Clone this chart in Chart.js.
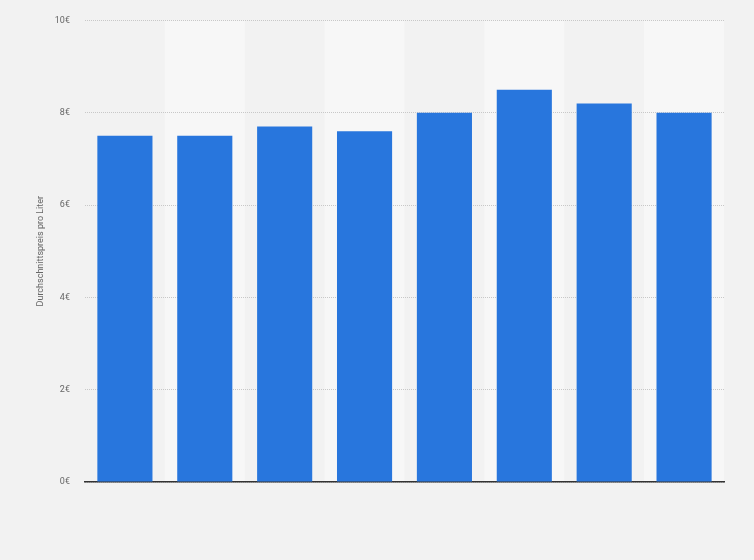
<!DOCTYPE html>
<html>
<head>
<meta charset="utf-8">
<script src="https://cdn.jsdelivr.net/npm/chart.js@4/dist/chart.umd.min.js"></script>
<style>
  html, body { margin: 0; padding: 0; background: #f2f2f2; }
  #wrap { width: 754px; height: 560px; }
</style>
</head>
<body>
<div id="wrap"><canvas id="chart"></canvas></div>
<script>
// Werte
const categories = ["1", "2", "3", "4", "5", "6", "7", "8"];
const preise = [7.5, 7.5, 7.7, 7.6, 8.0, 8.5, 8.2, 8.0];
const yTicks = [0, 2, 4, 6, 8, 10];

// abwechselnde Spaltenhintergründe
const bandPlugin = {
  id: "bands",
  beforeDraw(chart) {
    const { ctx, chartArea, scales } = chart;
    const x = scales.x;
    const step = x.getPixelForValue(1) - x.getPixelForValue(0);
    ctx.save();
    categories.forEach((c, i) => {
      if (i % 2 === 1) {
        ctx.fillStyle = "#f7f7f7";
        ctx.fillRect(x.getPixelForValue(i) - step / 2, chartArea.top, step, chartArea.bottom - chartArea.top);
      }
    });
    ctx.restore();
  }
};

new Chart(document.getElementById("chart"), {
  type: "bar",
  data: {
    labels: categories,
    datasets: [{
      label: "Durchschnittspreis pro Liter",
      data: preise,
      backgroundColor: "#2876dd",
      borderWidth: 0,
      barPercentage: 0.69,
      categoryPercentage: 1
    }]
  },
  options: {
    responsive: true,
    maintainAspectRatio: false,
    animation: false,
    layout: { padding: { top: 14, right: 30, bottom: 78, left: 35 } },
    plugins: {
      legend: { display: false },
      tooltip: { enabled: false }
    },
    scales: {
      x: {
        grid: { display: false, drawTicks: false },
        border: { display: true, color: "#333", width: 1.5 },
        ticks: { display: false }
      },
      y: {
        min: 0,
        max: 10,
        afterBuildTicks(axis) { axis.ticks = yTicks.map(v => ({ value: v })); },
        grid: { color: "#c8c8c8", drawTicks: false, lineWidth: 1 },
        border: { display: false, dash: [1, 1] },
        ticks: {
          padding: 15,
          color: "#666",
          font: { family: "Roboto", size: 9 },
          callback: v => v + "€"
        },
        title: {
          display: true,
          text: "Durchschnittspreis pro Liter",
          color: "#666",
          font: { family: "Roboto", size: 9 },
          padding: { top: 0, bottom: -6 }
        }
      }
    }
  },
  plugins: [bandPlugin]
});
</script>
</body>
</html>
